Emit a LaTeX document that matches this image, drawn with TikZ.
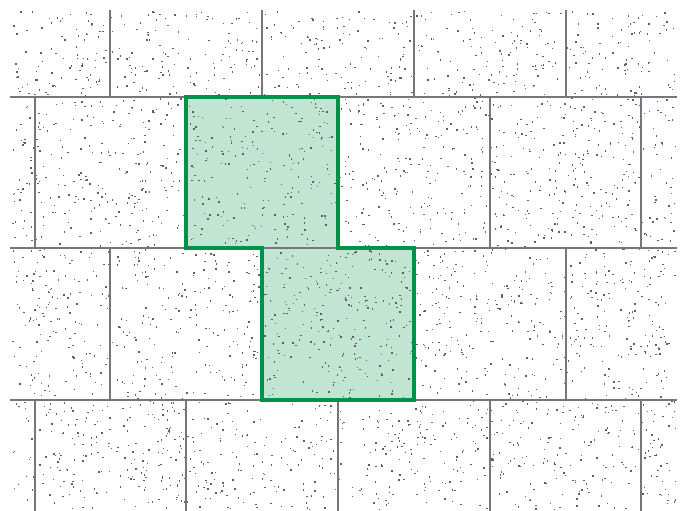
\documentclass[tikz,border=0pt]{standalone}
\usepackage{tikz}
\usetikzlibrary{calc}
\usepackage{xcolor}
\definecolor{joint}{RGB}{118,118,126}
\definecolor{speck}{RGB}{95,95,100}
\definecolor{tilegreen}{RGB}{0,146,72}
\definecolor{tilefill}{RGB}{194,228,210}

\begin{document}
\begin{tikzpicture}[
    x=1pt, y=-1pt,
    jointline/.style={draw=joint, line width=2.6pt},
    pickline/.style={draw=tilegreen, line width=4.5pt, line join=miter},
    pickfill/.style={fill=tilefill},
    dot/.style={fill=speck}
]
\useasboundingbox (0,0) rectangle (685,511);
\fill[white] (0,0) rectangle (685,511);

% highlighted pair of tiles
\fill[pickfill] (186,97) -- (338,97) -- (338,248) -- (414,248) -- (414,400)
    -- (262,400) -- (262,248) -- (186,248) -- cycle;

% stipple texture
\pgfmathsetseed{4217}
\foreach \i in {1,...,3300}{
    \pgfmathsetmacro{\px}{12+rnd*663}
    \pgfmathsetmacro{\py}{11+rnd*498}
    \fill[dot] (\px,\py) rectangle ++(1.4,1.4);
}

% joints between the tiles
\foreach \y in {97,248,400}
    \draw[jointline] (10,\y) -- (677,\y);
\foreach \x in {110,262,414,566}{
    \draw[jointline] (\x,10) -- (\x,97);
    \draw[jointline] (\x,248) -- (\x,400);
}
\foreach \x in {35,186,338,490,641}{
    \draw[jointline] (\x,97) -- (\x,248);
    \draw[jointline] (\x,400) -- (\x,511);
}

\draw[pickline] (186,97) -- (338,97) -- (338,248) -- (414,248) -- (414,400)
    -- (262,400) -- (262,248) -- (186,248) -- cycle;
\end{tikzpicture}
\end{document}
